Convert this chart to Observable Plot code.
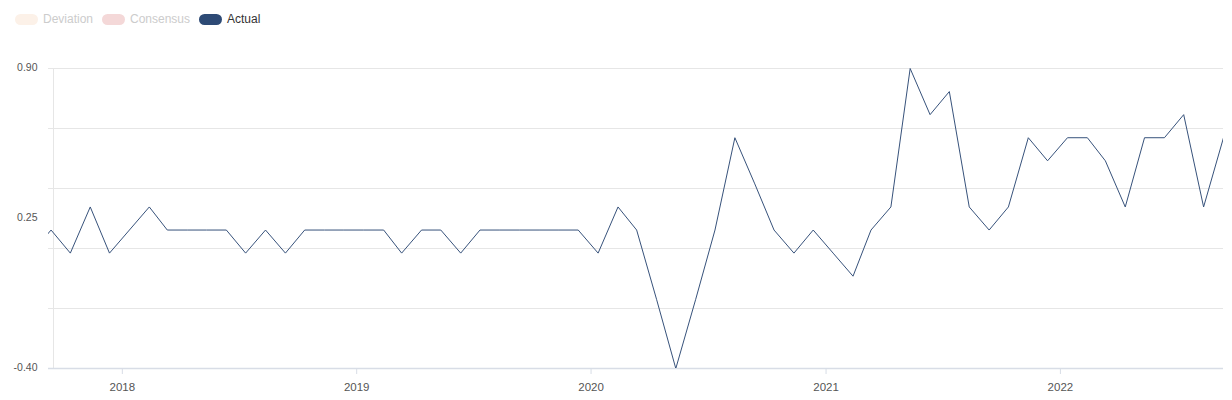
<!DOCTYPE html>
<html>
<head>
<meta charset="utf-8">
<script src="https://cdn.jsdelivr.net/npm/d3@7"></script>
<script src="https://cdn.jsdelivr.net/npm/@observablehq/plot@0.6"></script>
<style>
  body { margin: 0; background: #fff; font-family: "Liberation Sans", Arial, sans-serif; }
  #legend { position: relative; height: 36px; width: 1232px; }
  .item { position: absolute; top: 12px; display: flex; align-items: center; font-size: 12px; line-height: 14px; }
  .pill { width: 23px; height: 11px; border-radius: 6px; margin-right: 5px; }
  #chart svg { display: block; }
</style>
</head>
<body>
<div id="legend"></div>
<div id="chart"></div>
<script>
// Data (monthly, Aug 2017 – Sep 2022)
const startMonth = "2017-08";
const values = [
  0.1, 0.2, 0.1, 0.3, 0.1,                                        // 2017 Aug–Dec
  0.2, 0.3, 0.2, 0.2, 0.2, 0.2, 0.1, 0.2, 0.1, 0.2, 0.2, 0.2,      // 2018
  0.2, 0.2, 0.1, 0.2, 0.2, 0.1, 0.2, 0.2, 0.2, 0.2, 0.2, 0.2,      // 2019
  0.1, 0.3, 0.2, -0.1, -0.4, -0.1, 0.2, 0.6, 0.4, 0.2, 0.1, 0.2,   // 2020
  0.1, 0.0, 0.2, 0.3, 0.9, 0.7, 0.8, 0.3, 0.2, 0.3, 0.6, 0.5,      // 2021
  0.6, 0.6, 0.5, 0.3, 0.6, 0.6, 0.7, 0.3, 0.6                      // 2022 Jan–Sep
];
const releaseDay = 12;
const xDomain = ["2017-09-08", "2022-09-12"];
const yDomain = [-0.4, 0.9];
const gridTicks = [0.9, 0.64, 0.38, 0.12, -0.14];
const yLabelTicks = [0.9, 0.25, -0.4];
const xTickYears = ["2018-01-01", "2019-01-01", "2020-01-01", "2021-01-01", "2022-01-01"];
const legendItems = [
  { name: "Deviation", color: "#fcf1e8", text: "#cccccc", left: 15 },
  { name: "Consensus", color: "#f4d8d8", text: "#cccccc", left: 102 },
  { name: "Actual", color: "#2d4a75", text: "#333333", left: 199 }
];
const lineColor = "#37527b";

// Build table
const start = d3.utcParse("%Y-%m")(startMonth);
const data = values.map((v, i) => {
  const m = d3.utcMonth.offset(start, i);
  return { date: d3.utcDay.offset(m, releaseDay - 1), value: v };
});

// Legend
const legend = document.getElementById("legend");
for (const it of legendItems) {
  const el = document.createElement("div");
  el.className = "item";
  el.style.left = it.left + "px";
  el.innerHTML = `<span class="pill" style="background:${it.color}"></span><span style="color:${it.text}">${it.name}</span>`;
  legend.appendChild(el);
}

const parse = d3.utcParse("%Y-%m-%d");
const x0 = parse(xDomain[0]);

const chart = Plot.plot({
  width: 1232,
  height: 364,
  marginTop: 32,
  marginBottom: 32,
  marginLeft: 48,
  marginRight: 9,
  style: { fontFamily: "'Liberation Sans', Arial, sans-serif", background: "#fff" },
  x: { type: "utc", domain: xDomain.map(parse), label: null },
  y: { domain: yDomain, label: null },
  marks: [
    Plot.gridY(gridTicks, { stroke: "#e6e6e6", strokeOpacity: 1 }),
    Plot.ruleX([x0], { dx: 5, stroke: "#e6e6e6" }),
    Plot.ruleY([yDomain[0]], { stroke: "#d8dde6", strokeWidth: 1.5 }),
    Plot.axisY(yLabelTicks, { label: null, tickSize: 0, tickPadding: 11, tickFormat: d => d.toFixed(2), fontSize: 10.5, fill: "#555", dy: -1 }),
    Plot.axisX(xTickYears.map(parse), { label: null, tickSize: 6, tickPadding: 8, stroke: "#d8dde6", tickFormat: d3.utcFormat("%Y"), fontSize: 11.5, fill: "#555" }),
    Plot.lineY(data, { x: "date", y: "value", stroke: lineColor, strokeWidth: 1, clip: true })
  ]
});
document.getElementById("chart").appendChild(chart);
</script>
</body>
</html>
